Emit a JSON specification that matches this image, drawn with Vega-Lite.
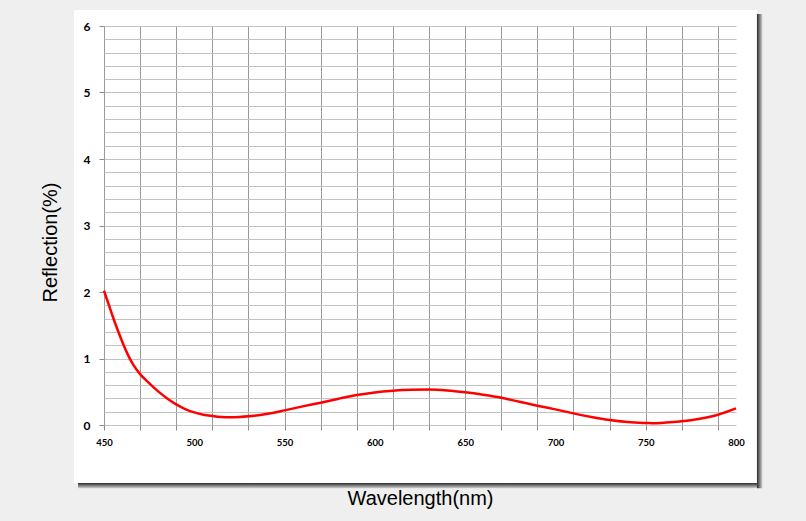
{
  "$schema": "https://vega.github.io/schema/vega-lite/v6.json",
  "autosize": {"type": "none"},
  "padding": {"left": 74, "top": 10, "right": 49, "bottom": 38},
  "width": 683,
  "height": 473,
  "background": "#efefef",
  "view": {"fill": "white", "stroke": null},
  "datasets": {
    "curve": [
      {"wavelength": 450, "reflection": 2.02},
      {"wavelength": 453, "reflection": 1.78},
      {"wavelength": 455, "reflection": 1.62},
      {"wavelength": 457, "reflection": 1.47},
      {"wavelength": 460, "reflection": 1.26},
      {"wavelength": 463, "reflection": 1.07},
      {"wavelength": 466, "reflection": 0.915},
      {"wavelength": 470, "reflection": 0.765},
      {"wavelength": 475, "reflection": 0.63},
      {"wavelength": 480, "reflection": 0.505},
      {"wavelength": 485, "reflection": 0.4},
      {"wavelength": 490, "reflection": 0.31},
      {"wavelength": 495, "reflection": 0.24},
      {"wavelength": 500, "reflection": 0.19},
      {"wavelength": 505, "reflection": 0.155},
      {"wavelength": 510, "reflection": 0.135},
      {"wavelength": 515, "reflection": 0.12},
      {"wavelength": 520, "reflection": 0.115},
      {"wavelength": 525, "reflection": 0.12},
      {"wavelength": 530, "reflection": 0.13},
      {"wavelength": 540, "reflection": 0.165},
      {"wavelength": 550, "reflection": 0.22},
      {"wavelength": 560, "reflection": 0.28},
      {"wavelength": 570, "reflection": 0.335},
      {"wavelength": 580, "reflection": 0.395},
      {"wavelength": 590, "reflection": 0.45},
      {"wavelength": 600, "reflection": 0.49},
      {"wavelength": 610, "reflection": 0.515},
      {"wavelength": 620, "reflection": 0.53},
      {"wavelength": 630, "reflection": 0.533},
      {"wavelength": 640, "reflection": 0.52},
      {"wavelength": 650, "reflection": 0.492},
      {"wavelength": 660, "reflection": 0.455},
      {"wavelength": 670, "reflection": 0.41},
      {"wavelength": 680, "reflection": 0.35},
      {"wavelength": 690, "reflection": 0.29},
      {"wavelength": 700, "reflection": 0.235},
      {"wavelength": 710, "reflection": 0.175},
      {"wavelength": 720, "reflection": 0.12},
      {"wavelength": 730, "reflection": 0.075},
      {"wavelength": 740, "reflection": 0.045},
      {"wavelength": 750, "reflection": 0.03},
      {"wavelength": 755, "reflection": 0.025},
      {"wavelength": 760, "reflection": 0.035},
      {"wavelength": 770, "reflection": 0.055},
      {"wavelength": 780, "reflection": 0.095},
      {"wavelength": 790, "reflection": 0.155},
      {"wavelength": 800, "reflection": 0.25}
    ]
  },
  "layer": [
    {
      "data": {"values": [{"side": "right"}]},
      "mark": {"type": "rect", "fill": {"gradient": "linear", "x1": 0, "x2": 1, "y1": 0, "y2": 0, "stops": [{"offset": 0, "color": "#2a2a2a"}, {"offset": 1, "color": "#cfcfcf"}]}},
      "encoding": {
        "x": {"datum": 811.6, "type": "quantitative"},
        "x2": {"datum": 814.6},
        "y": {"datum": 6.18, "type": "quantitative"},
        "y2": {"datum": -0.95}
      }
    },
    {
      "data": {"values": [{"side": "bottom"}]},
      "mark": {"type": "rect", "fill": {"gradient": "linear", "x1": 0, "x2": 0, "y1": 0, "y2": 1, "stops": [{"offset": 0, "color": "#2a2a2a"}, {"offset": 1, "color": "#cfcfcf"}]}},
      "encoding": {
        "x": {"datum": 435.6, "type": "quantitative"},
        "x2": {"datum": 811.6},
        "y": {"datum": -0.872, "type": "quantitative"},
        "y2": {"datum": -0.95}
      }
    },
    {
      "data": {"name": "curve"},
      "mark": {"type": "line", "color": "#ff0000", "strokeWidth": 2.5, "interpolate": "monotone", "clip": false},
      "encoding": {
        "x": {
          "field": "wavelength",
          "type": "quantitative",
          "scale": {"domain": [450, 800], "range": [30, 662], "nice": false, "zero": false},
          "axis": {
            "orient": "top",
            "offset": -415,
            "domain": false,
            "values": [450, 470, 490, 500, 510, 530, 550, 570, 590, 600, 610, 630, 650, 670, 690, 700, 710, 730, 750, 770, 790, 800],
            "tickCount": 1000,
            "grid": true,
            "gridColor": "#9a9a9a",
            "gridWidth": 1,
            "gridOpacity": {"condition": {"test": "(datum.value - 450) % 20 == 0", "value": 1}, "value": 0},
            "ticks": true,
            "tickSize": -5,
            "tickColor": "#8a8a8a",
            "tickOpacity": {"condition": {"test": "(datum.value - 450) % 20 == 0", "value": 1}, "value": 0},
            "labelExpr": "datum.value % 50 == 0 ? format(datum.value, 'd') : ''",
            "labelFont": "Lato",
            "labelFontWeight": "bold",
            "labelFontSize": 9.5,
            "labelColor": "#000000",
            "labelBaseline": "top",
            "labelPadding": -7,
            "labelOverlap": false,
            "labelBound": false,
            "labelFlush": false,
            "title": "Wavelength(nm)",
            "titleFont": "Liberation Sans",
            "titleFontWeight": "normal",
            "titleFontSize": 20,
            "titleColor": "#000000",
            "titleBaseline": "alphabetic",
            "titleY": 79
          }
        },
        "y": {
          "field": "reflection",
          "type": "quantitative",
          "scale": {"domain": [0, 6], "range": [415, 16], "nice": false, "zero": false},
          "axis": {
            "orient": "left",
            "offset": -30,
            "domain": false,
            "values": [0, 0.2, 0.4, 0.6, 0.8, 1, 1.2, 1.4, 1.6, 1.8, 2, 2.2, 2.4, 2.6, 2.8, 3, 3.2, 3.4, 3.6, 3.8, 4, 4.2, 4.4, 4.6, 4.8, 5, 5.2, 5.4, 5.6, 5.8, 6],
            "tickCount": 1000,
            "grid": true,
            "gridColor": "#c2c2c2",
            "gridWidth": 1,
            "ticks": true,
            "tickSize": 5,
            "tickColor": "#8a8a8a",
            "tickOpacity": {"condition": {"test": "abs(datum.value - round(datum.value)) < 0.000001", "value": 1}, "value": 0},
            "labelExpr": "abs(datum.value - round(datum.value)) < 0.000001 ? format(datum.value, 'd') : ''",
            "labelFont": "Lato",
            "labelFontWeight": "bold",
            "labelFontSize": 12,
            "labelColor": "#000000",
            "labelPadding": 9,
            "labelOverlap": false,
            "labelBound": false,
            "title": "Reflection(%)",
            "titleFont": "Liberation Sans",
            "titleFontWeight": "normal",
            "titleFontSize": 20,
            "titleColor": "#000000",
            "titleAngle": -90,
            "titleAlign": "center",
            "titleBaseline": "alphabetic",
            "titleX": -48,
            "titleY": 232
          }
        }
      }
    }
  ]
}
